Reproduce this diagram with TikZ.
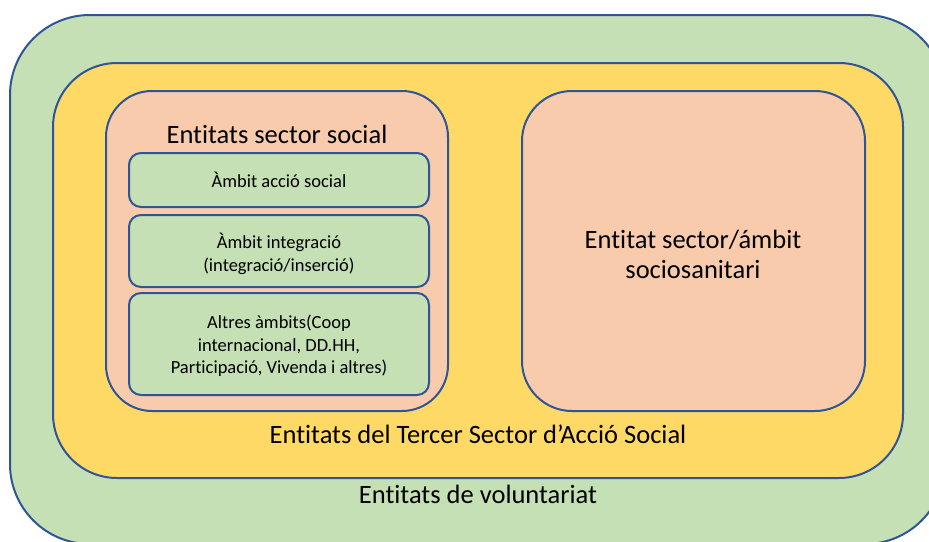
\documentclass[tikz,border=0pt]{standalone}
\usepackage{fontspec}
\setmainfont{Carlito}[Ligatures=NoCommon]
\definecolor{frameblue}{HTML}{2F5597}
\definecolor{voluntgreen}{HTML}{C5E0B4}
\definecolor{tercergold}{HTML}{FFD966}
\definecolor{sectorsalmon}{HTML}{F8CBAD}
\tikzset{
  areabox/.style={line width=2pt, draw=frameblue},
  bigtext/.style={font=\fontsize{26.5}{30}\selectfont, align=center},
  smalltext/.style={font=\fontsize{18.5}{22.5}\selectfont, align=center}
}
\begin{document}
\begin{tikzpicture}[x=1pt, y=-1pt]
		\useasboundingbox (0, 0) rectangle (929, 541);
		\draw[areabox, fill=voluntgreen, rounded corners=80pt](10, 15) rectangle (945, 544);
		\draw[areabox, fill=tercergold, rounded corners=64pt](53, 63) rectangle (903, 478);
		\draw[areabox, fill=sectorsalmon, rounded corners=46pt](106, 91) rectangle (448, 411);
		\draw[areabox, fill=sectorsalmon, rounded corners=50pt](522, 91) rectangle (865, 411);
		\draw[areabox, fill=voluntgreen, rounded corners=12pt](129, 153) rectangle (429, 207);
		\draw[areabox, fill=voluntgreen, rounded corners=12pt](129, 215) rectangle (429, 287);
		\draw[areabox, fill=voluntgreen, rounded corners=12pt](129, 293) rectangle (429, 395);
		\node[bigtext] (social) at (277, 134) {Entitats sector social};
		\node[smalltext] (accio) at (279, 180) {Àmbit acció social};
		\node[smalltext] (integracio) at (279, 254) {Àmbit integració\\(integració/inserció)};
		\node[smalltext] (altres) at (279, 346) {Altres àmbits(Coop\\internacional, DD.HH,\\Participació, Vivenda i altres)};
		\node[bigtext] (sociosanitari) at (693, 254) {Entitat sector/ámbit\\sociosanitari};
		\node[bigtext] (tercer) at (478, 434) {Entitats del Tercer Sector d’Acció Social};
		\node[bigtext] (voluntariat) at (478, 494) {Entitats de voluntariat};
		\end{tikzpicture}
\end{document}
